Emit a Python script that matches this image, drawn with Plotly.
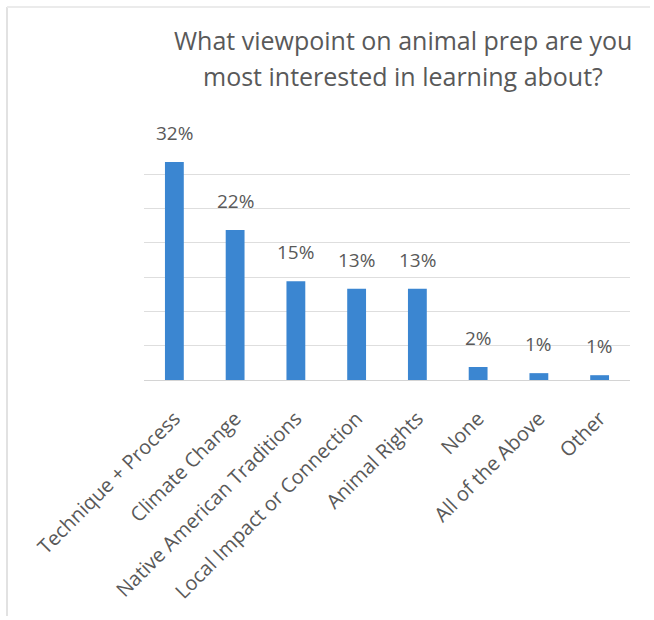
import plotly.graph_objects as go

categories = ["Technique + Process", "Climate Change", "Native American Traditions",
              "Local Impact or Connection", "Animal Rights", "None", "All of the Above", "Other"]
values = [31.8, 21.9, 14.4, 13.3, 13.3, 1.9, 1.0, 0.7]
labels = ["32%", "22%", "15%", "13%", "13%", "2%", "1%", "1%"]
title_lines = ["What viewpoint on animal prep are you", "most interested in learning about?"]

W, H = 654, 620
L, R, T, B = 144, 24, 140, 240
PW, PH = W - L - R, H - T - B
FONT = "Open Sans, Lato, sans-serif"
GRAY = "#595959"

fig = go.Figure(go.Bar(
    x=categories, y=values,
    marker=dict(color="#3b86d1", line=dict(width=0)),
    hoverinfo="x+y",
))

annotations = []
for c, v, t in zip(categories, values, labels):
    annotations.append(dict(x=c, y=v, text=t, xref="x", yref="y", showarrow=False,
                            xanchor="center", yanchor="bottom", yshift=14,
                            font=dict(family=FONT, size=19, color=GRAY)))
title_y = [40, 76]
for line, ty in zip(title_lines, title_y):
    annotations.append(dict(text=line, xref="paper", yref="paper",
                            x=(403 - L) / PW, y=1 + (T - ty) / PH,
                            xanchor="center", yanchor="middle", showarrow=False,
                            font=dict(family=FONT, size=25, color=GRAY)))

fig.update_layout(
    width=W, height=H,
    margin=dict(l=L, r=R, t=T, b=B, pad=0, autoexpand=False),
    paper_bgcolor="white", plot_bgcolor="white",
    bargap=0.69,
    showlegend=False,
    font=dict(family=FONT, color=GRAY),
    xaxis=dict(tickangle=-45, tickfont=dict(family=FONT, size=20, color=GRAY),
               ticklabelstandoff=18, automargin=False,
               showline=True, linecolor="#d4d4d4", linewidth=1, ticks="",
               showgrid=False),
    yaxis=dict(range=[0, 35.02], tickvals=[5, 10, 15, 20, 25, 30, 35], showticklabels=False,
               automargin=False,
               showgrid=True, gridcolor="#dedede", gridwidth=1, zeroline=False, ticks=""),
    annotations=annotations,
    shapes=[
        dict(type="line", xref="paper", yref="paper",
             x0=-(L - 7) / PW, x1=-(L - 7) / PW,
             y0=1 + (T - 7) / PH, y1=-(B - 4) / PH,
             line=dict(color="#e2e2e2", width=2)),
        dict(type="line", xref="paper", yref="paper",
             x0=-(L - 7) / PW, x1=1 + (R - 4) / PW,
             y0=1 + (T - 7) / PH, y1=1 + (T - 7) / PH,
             line=dict(color="#ebebeb", width=2)),
    ],
)

fig.write_html("out.html")
